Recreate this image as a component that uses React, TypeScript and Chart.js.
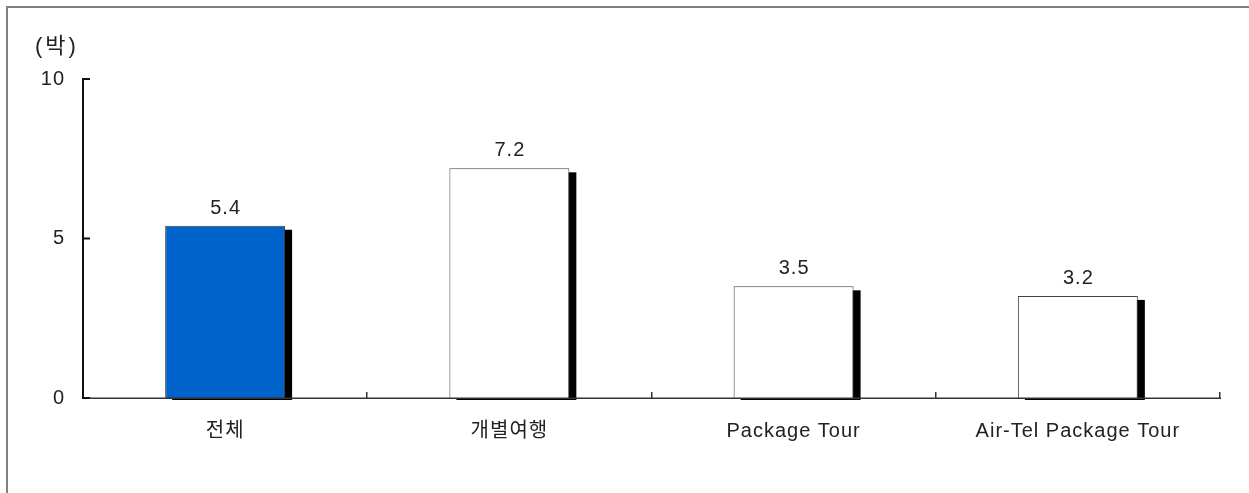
import React, { useEffect, useRef } from "react";
import { Chart, registerables } from "chart.js";

Chart.register(...registerables);

const categories = ["전체", "개별여행", "Package Tour", "Air-Tel Package Tour"];
const values = [5.4, 7.2, 3.5, 3.2];
const barColors = ["#0063CC", "#FFFFFF", "#FFFFFF", "#FFFFFF"];
const yTicks = [0, 5, 10];
const unitLabel = "(박)";

const FONT = "'Liberation Sans', 'Noto Sans CJK KR', sans-serif";
const TEXT = "#222222";
const SPACING = "1px";

const decorPlugin = {
  id: "decor",
  beforeUpdate(chart: any) {
    (chart.ctx as any).letterSpacing = SPACING;
  },
  beforeDraw(chart: any) {
    const ctx = chart.ctx;
    (ctx as any).letterSpacing = SPACING;
    ctx.save();
    ctx.fillStyle = "#808080";
    ctx.fillRect(6, 6, chart.width, 2);
    ctx.fillRect(6, 6, 2, chart.height);
    ctx.fillStyle = TEXT;
    ctx.font = `22px ${FONT}`;
    (ctx as any).letterSpacing = "3px";
    ctx.textAlign = "left";
    ctx.textBaseline = "alphabetic";
    ctx.fillText(unitLabel, 35, 53);
    ctx.restore();
  },
  beforeDatasetsDraw(chart: any) {
    const ctx = chart.ctx;
    const meta = chart.getDatasetMeta(0);
    const base = chart.scales.y.getPixelForValue(0);
    ctx.save();
    ctx.fillStyle = "#000000";
    meta.data.forEach((bar: any) => {
      const { x, y, width } = bar.getProps(["x", "y", "width"], true);
      const left = x - width / 2;
      ctx.fillRect(left + 7, y + 4, width, base + 2 - (y + 4));
    });
    ctx.restore();
  },
  afterDatasetsDraw(chart: any) {
    const ctx = chart.ctx;
    const { left, right, top } = chart.chartArea;
    const ys = chart.scales.y;
    const xs = chart.scales.x;
    const base = ys.getPixelForValue(0);
    ctx.save();
    // x axis line
    ctx.fillStyle = "#333333";
    ctx.fillRect(left, base - 0.5, right - left + 1, 1.5);
    // x tick marks at category boundaries
    categories.forEach((_, i) => {
      const bx = xs.getPixelForValue(i + 0.5);
      ctx.fillRect(Math.round(bx) - 1, base - 6, 1.5, 6);
    });
    // y axis line + inward ticks
    ctx.fillStyle = "#111111";
    ctx.fillRect(left - 1, top - 1, 2, base - top + 2);
    yTicks.forEach((t) => {
      const py = ys.getPixelForValue(t);
      ctx.fillRect(left - 1, py - 1, 8, 2);
    });
    // value labels
    const meta = chart.getDatasetMeta(0);
    ctx.fillStyle = TEXT;
    ctx.font = `20px ${FONT}`;
    ctx.textAlign = "center";
    ctx.textBaseline = "alphabetic";
    meta.data.forEach((bar: any, i: number) => {
      const { x, y } = bar.getProps(["x", "y"], true);
      ctx.fillText(values[i].toFixed(1), x + 0.5, y - 12);
    });
    ctx.restore();
  },
};

export default function App() {
  const ref = useRef<HTMLCanvasElement | null>(null);

  useEffect(() => {
    document.body.style.margin = "0";
    const canvas = ref.current;
    if (!canvas) return;
    const chart = new Chart(canvas, {
      type: "bar",
      data: {
        labels: categories,
        datasets: [
          {
            data: values,
            backgroundColor: barColors,
            borderColor: "#444444",
            borderWidth: 1,
            barPercentage: 0.422,
            categoryPercentage: 1,
          },
        ],
      },
      options: {
        responsive: false,
        animation: false,
        layout: { padding: { top: 79, right: 29, left: 0, bottom: 0 } },
        plugins: {
          legend: { display: false },
          tooltip: { enabled: false },
          title: { display: false },
        },
        scales: {
          x: {
            grid: { display: false, drawTicks: false },
            border: { display: false },
            ticks: {
              font: { size: 20, family: FONT },
              color: TEXT,
              padding: 21,
              maxRotation: 0,
              autoSkip: false,
            },
            afterFit: (s: any) => {
              s.height = 95;
            },
          },
          y: {
            min: 0,
            max: 10,
            grid: { display: false, drawTicks: false },
            border: { display: false },
            ticks: {
              font: { size: 20, family: FONT },
              color: TEXT,
              padding: 18,
            },
            afterBuildTicks: (s: any) => {
              s.ticks = yTicks.map((v) => ({ value: v }));
            },
            afterFit: (s: any) => {
              s.width = 83;
            },
          },
        },
      },
      plugins: [decorPlugin],
    } as any);
    return () => chart.destroy();
  }, []);

  return (
    <canvas
      ref={ref}
      width={1249}
      height={493}
      style={{ display: "block", width: 1249, height: 493 }}
    />
  );
}
